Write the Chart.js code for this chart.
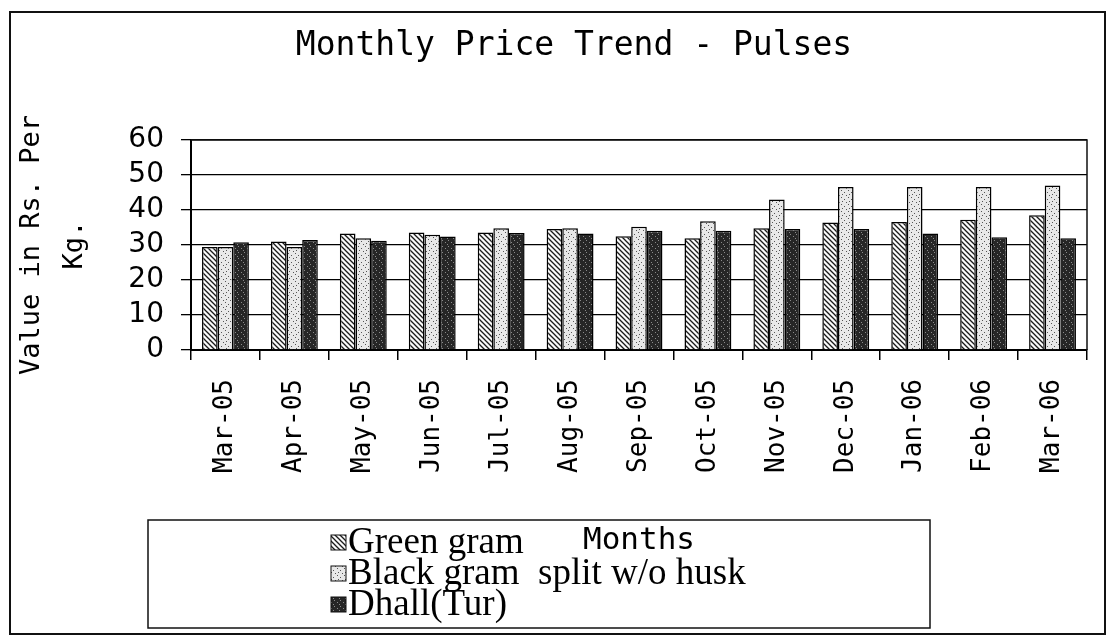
<!DOCTYPE html>
<html>
<head>
<meta charset="utf-8">
<script src="https://cdn.jsdelivr.net/npm/chart.js@4.4.0/dist/chart.umd.min.js"></script>
<style>
  html, body { margin: 0; padding: 0; background: #fff; }
</style>
</head>
<body>
<canvas id="chart" width="1120" height="639"></canvas>
<script>
const months = ['Mar-05', 'Apr-05', 'May-05', 'Jun-05', 'Jul-05', 'Aug-05', 'Sep-05',
  'Oct-05', 'Nov-05', 'Dec-05', 'Jan-06', 'Feb-06', 'Mar-06']
const greenGram = [29.4, 31.0, 33.3, 33.6, 33.6, 34.6, 32.5, 31.9, 34.8, 36.4, 36.6, 37.2, 38.5]
const blackGram = [29.4, 29.4, 31.9, 32.9, 34.8, 34.8, 35.2, 36.8, 43.0, 46.6, 46.6, 46.6, 47.0]
const dhallTur = [30.8, 31.4, 31.2, 32.4, 33.4, 33.3, 34.1, 34.1, 34.6, 34.6, 33.3, 32.2, 31.9]
const yTicks = [0, 10, 20, 30, 40, 50, 60]
const chartTitle = 'Monthly Price Trend - Pulses'

const MONO = '"DejaVu Sans Mono", monospace'
const canvas = document.getElementById('chart')
const ctx = canvas.getContext('2d')

// small fill patterns standing in for the scanned hatches
function makePattern (size, bg, draw) {
  const c = document.createElement('canvas')
  c.width = size
  c.height = size
  const g = c.getContext('2d')
  g.fillStyle = bg
  g.fillRect(0, 0, size, size)
  draw(g)
  return ctx.createPattern(c, 'repeat')
}

const hatch = makePattern(5, '#fafafa', (g) => {
  g.strokeStyle = '#1a1a1a'
  g.lineWidth = 1.3
  g.beginPath()
  g.moveTo(-1, -1); g.lineTo(6, 6)
  g.moveTo(-1, 4); g.lineTo(1, 6)
  g.moveTo(4, -1); g.lineTo(6, 1)
  g.stroke()
})
const stipple = makePattern(7, '#e8e8e8', (g) => {
  g.fillStyle = '#555'
  g.fillRect(1, 1, 1, 1); g.fillRect(4, 3, 1, 1); g.fillRect(2, 5, 1, 1); g.fillRect(6, 6, 1, 1)
})
const dark = makePattern(6, '#262626', (g) => {
  g.fillStyle = '#8a8a8a'
  g.fillRect(1, 2, 1, 1); g.fillRect(4, 0, 1, 1); g.fillRect(3, 4, 1, 1)
})

const frameAndLegend = {
  id: 'frameAndLegend',
  afterDraw (chart) {
    const c = chart.ctx
    const a = chart.chartArea
    c.save()
    c.strokeStyle = '#111'
    c.lineWidth = 1.5
    c.beginPath()
    c.moveTo(a.left, a.top); c.lineTo(a.right, a.top); c.lineTo(a.right, a.bottom)
    c.stroke()
    // title, drawn here so it can sit off the plot centre like the scan
    c.fillStyle = '#000'
    c.font = '33px ' + MONO
    c.textAlign = 'center'
    c.textBaseline = 'middle'
    c.fillText(chartTitle, 574, 46)
    // outer border of the picture
    c.lineWidth = 2
    c.strokeRect(10, 12, 1095, 622)
    // legend box
    c.lineWidth = 1.5
    c.strokeRect(148, 520, 782, 108)
    c.font = '37px "Liberation Serif", serif'
    c.textAlign = 'left'
    chart.data.datasets.forEach((ds, i) => {
      const y = 542 + i * 31
      c.fillStyle = ds.backgroundColor
      c.fillRect(331, y - 7, 15, 15)
      c.lineWidth = 1
      c.strokeRect(331, y - 7, 15, 15)
      c.fillStyle = '#000'
      c.fillText(ds.label, 348, y + 1)
    })
    c.restore()
  }
}

const barStyle = { borderColor: '#000', borderWidth: 1.5, barPercentage: 1, categoryPercentage: 0.68 }

new Chart(canvas, {
  type: 'bar',
  data: {
    labels: months,
    datasets: [
      { label: 'Green gram', data: greenGram, backgroundColor: hatch, ...barStyle },
      { label: 'Black gram  split w/o husk', data: blackGram, backgroundColor: stipple, ...barStyle },
      { label: 'Dhall(Tur)', data: dhallTur, backgroundColor: dark, ...barStyle }
    ]
  },
  options: {
    responsive: false,
    animation: false,
    layout: { padding: { left: 8, right: 33, top: 140, bottom: 79 } },
    plugins: {
      legend: { display: false },
      tooltip: { enabled: false },
      title: { display: false }
    },
    scales: {
      x: {
        grid: { drawOnChartArea: false, drawTicks: true, tickLength: 10, color: '#000', lineWidth: 1.5 },
        border: { color: '#000', width: 2 },
        ticks: { color: '#000', font: { family: MONO, size: 26 }, minRotation: 90, maxRotation: 90, autoSkip: false, padding: 19 },
        title: { display: true, text: 'Months', color: '#000', font: { family: MONO, size: 31 }, padding: { top: 0, bottom: 0 } },
        afterFit: (s) => { s.height = 210 }
      },
      y: {
        min: 0,
        max: 60,
        afterBuildTicks: (s) => { s.ticks = yTicks.map(v => ({ value: v })) },
        grid: { color: '#000', lineWidth: 1.3, tickLength: 10 },
        border: { color: '#000', width: 2 },
        ticks: { color: '#000', font: { family: '"DejaVu Sans", sans-serif', size: 28 }, padding: 17, autoSkip: false },
        title: {
          display: true,
          text: ['Value in Rs. Per', 'Kg.'],
          color: '#000',
          font: { family: MONO, size: 27, lineHeight: 1.6 },
          padding: { top: 2, bottom: 0 }
        },
        afterFit: (s) => { s.width = 183 }
      }
    }
  },
  plugins: [frameAndLegend]
})
</script>
</body>
</html>
